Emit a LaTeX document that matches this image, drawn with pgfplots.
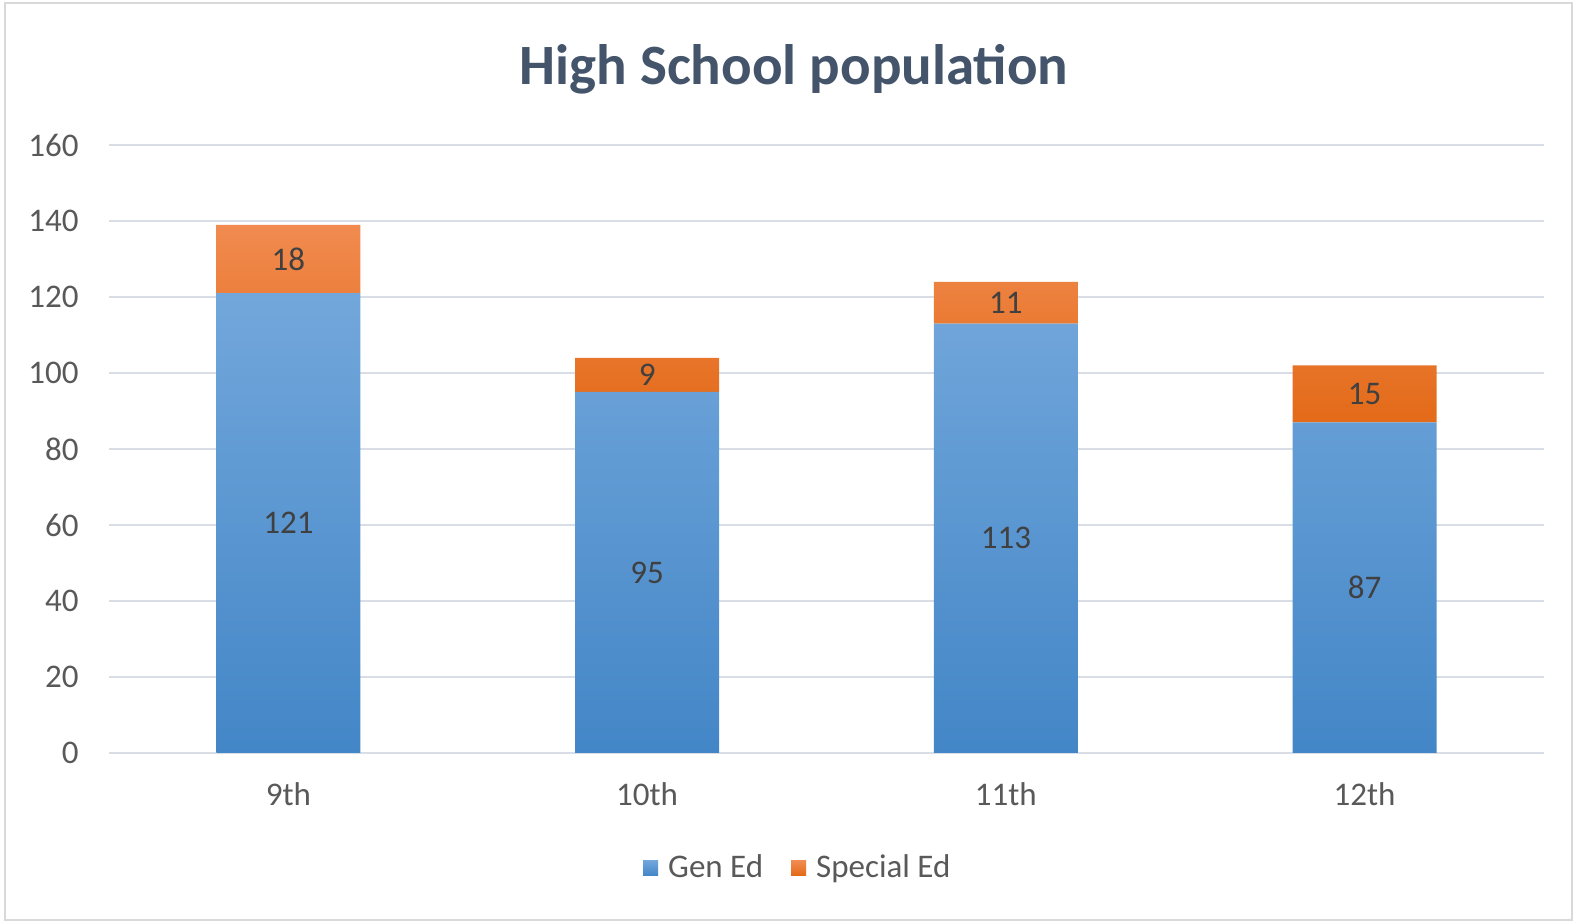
\documentclass[border=0pt]{standalone}
\usepackage{fontspec}
\setmainfont{Carlito}
\usepackage{pgfplots}
\pgfplotsset{compat=1.18}

\definecolor{titlecol}{HTML}{44546A}
\definecolor{tickcol}{HTML}{595959}
\definecolor{labelcol}{HTML}{404040}
\definecolor{gridcol}{HTML}{D9DEE6}
\definecolor{framecol}{HTML}{D9D9D9}
\definecolor{blueTop}{HTML}{72A7DB}
\definecolor{blueBot}{HTML}{4386C7}
\definecolor{orTop}{HTML}{F18B50}
\definecolor{orBot}{HTML}{E36A18}

\begin{document}
\begin{tikzpicture}
  \useasboundingbox (0,0) rectangle (791bp,461bp);
  \draw[framecol, line width=1bp] (2.5bp,1bp) rectangle (786bp,459.5bp);

  \node[anchor=base, font=\fontsize{28.5bp}{34bp}\selectfont\bfseries, text=titlecol]
    at (397bp,418.5bp) {High School population};

  \begin{axis}[
    at={(54.5bp,84.5bp)}, anchor=south west,
    scale only axis,
    width=717.5bp, height=304bp,
    ybar stacked, bar width=72bp,
    xmin=-0.5, xmax=3.5,
    ymin=0, ymax=160,
    xtick={0,1,2,3},
    xticklabels={9th,10th,11th,12th},
    ytick={0,20,...,160},
    axis line style={draw=none},
    major tick length=0pt,
    ymajorgrids,
    major grid style={color=gridcol, line width=0.9bp},
    /pgf/number format/assume math mode=true,
    ticklabel style={font=\fontsize{16.5bp}{19bp}\selectfont, text=tickcol},
    yticklabel style={anchor=east, inner sep=0pt, xshift=-15bp},
    xticklabel style={anchor=base, inner sep=0pt, yshift=-26bp},
    point meta=rawy,
    nodes near coords,
    every node near coord/.append style={anchor=center,
      font=\fontsize{16.5bp}{19bp}\selectfont, text=labelcol},
    legend columns=2,
    legend style={at={(axis description cs:0.372,-0.189)}, anchor=west,
      draw=none, fill=none, inner sep=0pt,
      font=\fontsize{16.5bp}{19bp}\selectfont, text=tickcol,
      /tikz/every odd column/.append style={column sep=3bp},
      /tikz/every even column/.append style={column sep=12bp}},
    legend image code/.code={\fill[#1] (0bp,-3.75bp) rectangle (7.5bp,3.75bp);},
  ]
    \addplot[draw=none, top color=blueTop, bottom color=blueBot]
      coordinates {(0,121) (1,95) (2,113) (3,87)};
    \addlegendentry{Gen Ed}
    \addplot[draw=none, top color=orTop, bottom color=orBot]
      coordinates {(0,18) (1,9) (2,11) (3,15)};
    \addlegendentry{Special Ed}
  \end{axis}
\end{tikzpicture}
\end{document}
